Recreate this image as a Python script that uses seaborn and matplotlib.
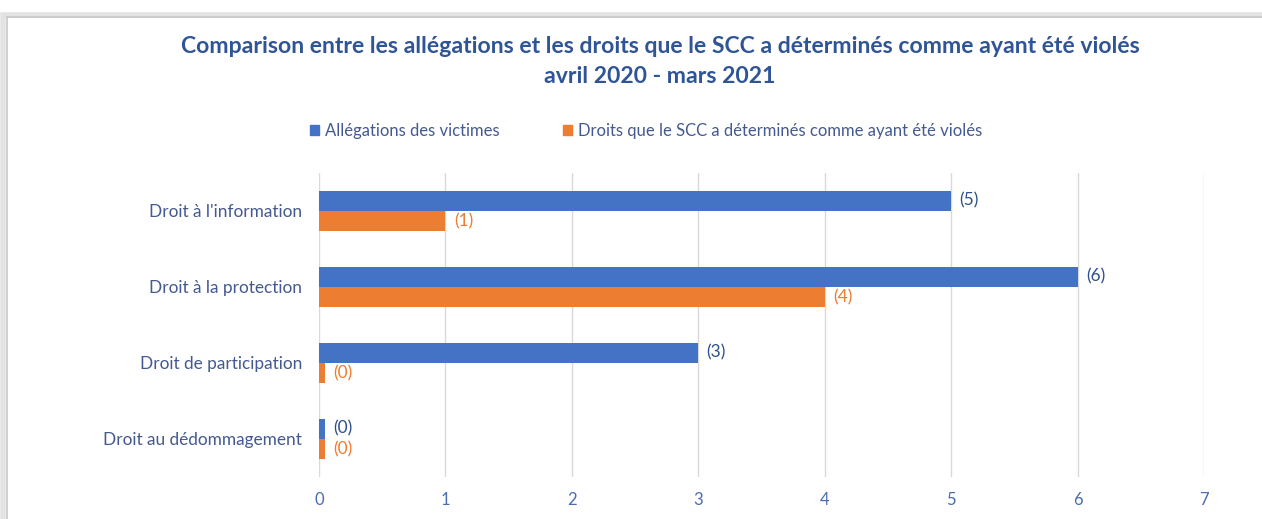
import numpy as np
import pandas as pd
import matplotlib.pyplot as plt
import seaborn as sns
from matplotlib.patches import Rectangle

# --- DONNÉES ---
categories = ["Droit à l'information", "Droit à la protection",
              "Droit de participation", "Droit au dédommagement"]
allegations = [5, 6, 3, 0]
droits_violes = [1, 4, 0, 0]
serie_noms = ["Allégations des victimes",
              "Droits que le SCC a déterminés comme ayant été violés"]
x_ticks = [0, 1, 2, 3, 4, 5, 6, 7]

BLEU = '#4472C4'
ORANGE = '#ED7D31'
TITRE = '#2F5597'
TEXTE = '#44598F'

# table longue pour seaborn (les zéros restent visibles comme un petit trait, comme dans Excel)
df = pd.DataFrame({
    'categorie': categories * 2,
    'serie': [serie_noms[0]] * 4 + [serie_noms[1]] * 4,
    'valeur': allegations + droits_violes,
})
df['affiche'] = np.maximum(df['valeur'], 0.05)

sns.set_theme(style="white")
plt.rcParams['font.family'] = ['Lato', 'DejaVu Sans']

fig = plt.figure(figsize=(12.62, 5.19), dpi=100)
ax = fig.add_axes([0.2528, 0.081, 0.7013, 0.586])

sns.barplot(data=df, y='categorie', x='affiche', hue='serie', orient='h',
            palette=[BLEU, ORANGE], width=0.53, ax=ax, legend=False,
            saturation=1, edgecolor='none')

# étiquettes de valeur
for cont, vals, coul in zip(ax.containers, [allegations, droits_violes], ['#2F4F8F', ORANGE]):
    ax.bar_label(cont, labels=[f"({v})" for v in vals], padding=6,
                 color=coul, fontsize=12.5)

ax.set_xlim(0, 7)
ax.set_xticks(x_ticks)
ax.set_xticklabels([str(t) for t in x_ticks], color='#4A6DB0', fontsize=12)
ax.set_xlabel('')
ax.set_ylabel('')
ax.tick_params(axis='y', labelcolor=TEXTE, labelsize=12.4, length=0, pad=12)
ax.tick_params(axis='x', length=0, pad=11)
ax.grid(axis='x', color='#D9D9D9', linewidth=1)
ax.set_axisbelow(True)
for s in ax.spines.values():
    s.set_visible(False)

# titre
fig.text(0.523, 0.911, "Comparison entre les allégations et les droits que le SCC a déterminés comme ayant été violés",
         ha='center', va='center', fontsize=16.6, fontweight='bold', color=TITRE)
fig.text(0.523, 0.853, "avril 2020 - mars 2021",
         ha='center', va='center', fontsize=16.6, fontweight='bold', color=TITRE)

# légende
poignees = [Rectangle((0, 0), 1, 1, color=BLEU), Rectangle((0, 0), 1, 1, color=ORANGE)]
fig.legend(poignees, serie_noms, loc='center', bbox_to_anchor=(0.512, 0.748), ncol=2,
           frameon=False, fontsize=12, handlelength=0.55, handleheight=0.55,
           handletextpad=0.35, columnspacing=3.8, labelcolor=TEXTE)

# cadre du graphique avec ombre à gauche
fig.patches.append(Rectangle((0.0025, -0.05), 1.1, 1.021, transform=fig.transFigure,
                             fill=False, edgecolor='#E3E3E3', linewidth=4, zorder=0))
fig.patches.append(Rectangle((0.0055, -0.05), 1.1, 1.021 - 0.003, transform=fig.transFigure,
                             fill=False, edgecolor='#C8C8C8', linewidth=1.2, zorder=0))

fig.savefig('out.png', dpi=100)
